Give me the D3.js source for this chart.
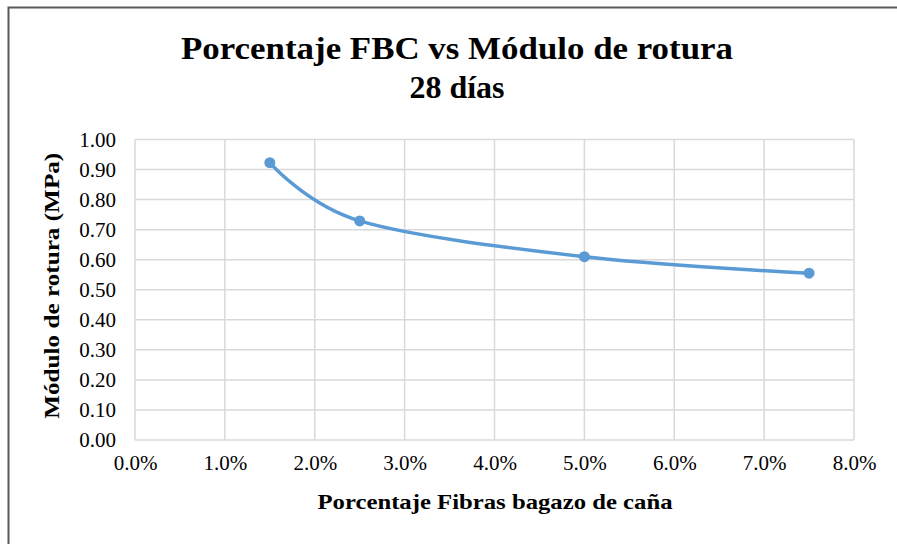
<!DOCTYPE html>
<html>
<head>
<meta charset="utf-8">
<script src="https://cdn.jsdelivr.net/npm/d3@7"></script>
<style>
  html, body { margin: 0; background: #fff; overflow: hidden; }
  svg { display: block; }
  text { font-family: "Liberation Serif", "Times New Roman", serif; fill: #000; }
</style>
</head>
<body>
<div id="chart"></div>
<script>
// data
var fibra = [0.015, 0.025, 0.05, 0.075];        // porcentaje FBC
var modulo = [0.923, 0.729, 0.61, 0.555];       // MPa
var xTicks = [0, 0.01, 0.02, 0.03, 0.04, 0.05, 0.06, 0.07, 0.08];
var yTicks = [0, 0.1, 0.2, 0.3, 0.4, 0.5, 0.6, 0.7, 0.8, 0.9, 1.0];

(function(){
var width = 897, height = 544;
var pLeft = 135, pRight = 854, pTop = 139.5, pBottom = 440;

var svg = d3.select("#chart").append("svg")
    .attr("width", width)
    .attr("height", height);

// outer frame of the chart (right and bottom edges run off the picture)
svg.append("rect")
    .attr("x", 8.5).attr("y", 7.5)
    .attr("width", 960).attr("height", 600)
    .attr("fill", "#fff")
    .attr("stroke", "#595959")
    .attr("stroke-width", 2);

var x = d3.scaleLinear().domain([0, 0.08]).range([pLeft, pRight]);
var y = d3.scaleLinear().domain([0, 1]).range([pBottom, pTop]);

// grid
svg.append("g").selectAll("line").data(yTicks).enter().append("line")
    .attr("x1", pLeft).attr("x2", pRight)
    .attr("y1", function(d){ return y(d) }).attr("y2", function(d){ return y(d) })
    .attr("stroke", "#d9d9d9").attr("stroke-width", 1.5);
svg.append("g").selectAll("line").data(xTicks).enter().append("line")
    .attr("y1", pTop).attr("y2", pBottom)
    .attr("x1", function(d){ return x(d) }).attr("x2", function(d){ return x(d) })
    .attr("stroke", "#d9d9d9").attr("stroke-width", 1.5);

// axes (labels only, Excel style)
var yAxis = svg.append("g")
    .attr("transform", "translate(" + (pLeft - 5) + ",0)")
    .call(d3.axisLeft(y).tickValues(yTicks).tickSize(0).tickPadding(14).tickFormat(d3.format(".2f")));
var xAxis = svg.append("g")
    .attr("transform", "translate(0," + (pBottom + 4) + ")")
    .call(d3.axisBottom(x).tickValues(xTicks).tickSize(0).tickPadding(11).tickFormat(d3.format(".1%")));
yAxis.select(".domain").remove();
xAxis.select(".domain").remove();
yAxis.selectAll("text")
    .attr("font-family", "Liberation Serif")
    .attr("font-size", 21)
    .attr("fill", "#000");
xAxis.selectAll("text")
    .attr("font-family", "Liberation Serif")
    .attr("font-size", 21)
    .attr("fill", "#000");

// series
var pts = fibra.map(function(f, i){ return [f, modulo[i]] });
var line = d3.line()
    .x(function(d){ return x(d[0]) })
    .y(function(d){ return y(d[1]) })
    .curve(d3.curveCardinal);

svg.append("path")
    .datum(pts)
    .attr("d", line)
    .attr("fill", "none")
    .attr("stroke", "#5b9bd5")
    .attr("stroke-width", 3.5)
    .attr("stroke-linecap", "round");

svg.append("g").selectAll("circle").data(pts).enter().append("circle")
    .attr("cx", function(d){ return x(d[0]) })
    .attr("cy", function(d){ return y(d[1]) })
    .attr("r", 5.5)
    .attr("fill", "#5b9bd5");

// titles
svg.append("text")
    .attr("x", 457).attr("y", 59)
    .attr("text-anchor", "middle")
    .attr("font-size", 32).attr("font-weight", "bold")
    .attr("textLength", 552).attr("lengthAdjust", "spacingAndGlyphs")
    .text("Porcentaje FBC vs Módulo de rotura");
svg.append("text")
    .attr("x", 457).attr("y", 98)
    .attr("text-anchor", "middle")
    .attr("font-size", 32).attr("font-weight", "bold")
    .text("28 días");

svg.append("text")
    .attr("x", 495).attr("y", 509)
    .attr("text-anchor", "middle")
    .attr("font-size", 22).attr("font-weight", "bold")
    .attr("textLength", 355).attr("lengthAdjust", "spacingAndGlyphs")
    .text("Porcentaje Fibras bagazo de caña");

svg.append("text")
    .attr("transform", "translate(59," + ((pTop + pBottom) / 2 - 4) + ") rotate(-90)")
    .attr("text-anchor", "middle")
    .attr("font-size", 22).attr("font-weight", "bold")
    .attr("textLength", 266).attr("lengthAdjust", "spacingAndGlyphs")
    .text("Módulo de rotura (MPa)");
})();
</script>
</body>
</html>
